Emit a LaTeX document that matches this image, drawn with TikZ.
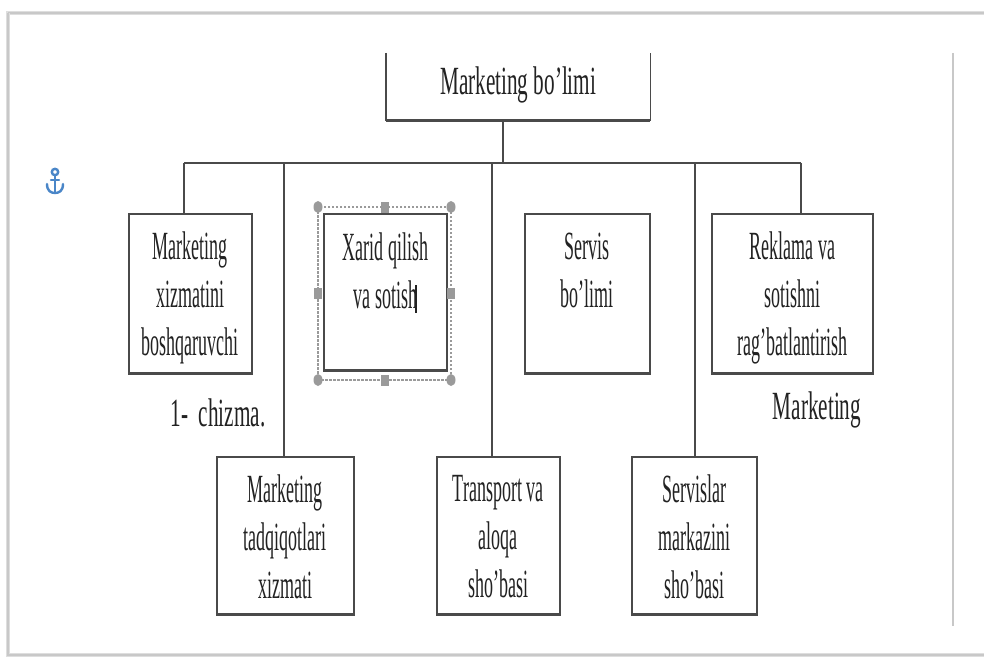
\documentclass[tikz,border=0pt]{standalone}
\usepackage{fontspec}
\setmainfont{Liberation Serif}
\newfontfamily\boxfont[FakeStretch=0.45]{Liberation Serif}
\newfontfamily\widefont[FakeStretch=0.53]{Liberation Serif}
\definecolor{edge}{HTML}{4A4A4A}
\definecolor{ink}{HTML}{222222}
\definecolor{handle}{HTML}{9A9A9A}
\definecolor{anchorblue}{HTML}{4A86C8}
\definecolor{pageedge}{HTML}{C8C8C8}
\tikzset{
  box/.style={draw=edge, line width=1.6pt, fill=white, rectangle, inner sep=0pt, anchor=north west},
  boxbottom/.style={draw=edge, line width=2.6pt},
  wire/.style={draw=edge, line width=1.6pt},
  txt/.style={font=\boxfont\fontsize{40}{48}\selectfont, text=ink, align=center, inner sep=0pt, anchor=north},
  bigtxt/.style={font=\widefont\fontsize{40}{48}\selectfont, text=ink, inner sep=0pt},
  grip/.style={fill=handle, draw=none},
}
\begin{document}
\begin{tikzpicture}[x=1pt, y=-1pt]
  \useasboundingbox (0,0) rectangle (984,663);
  \fill[white] (0,0) rectangle (984,663);

  % page edges
  \draw[pageedge!60, line width=4pt] (6,13) -- (984,13);
  \draw[pageedge, line width=1.4pt] (8,13) -- (984,13);
  \draw[pageedge!60, line width=4pt] (8,13) -- (8,655) -- (984,655);
  \draw[pageedge, line width=1.4pt] (8,13) -- (8,655) -- (984,655);
  \draw[pageedge, line width=1.2pt] (953,53) -- (953,626);

  % anchor mark
  \begin{scope}[anchorblue, line width=2.4pt, line cap=round]
    \draw (55,172) circle (3.2);
    \draw (55,176) -- (55,193);
    \draw (47,184) .. controls (47,191) and (51,193) .. (55,193)
                   .. controls (59,193) and (63,191) .. (63,184);
    \draw (51,180) -- (59,180);
  \end{scope}

  % top unit (its top edge is outside the view)
  \node[inner sep=0pt, minimum width=264pt, minimum height=67pt, anchor=north west] (top) at (386,53) {};
  \draw[wire] (top.north west) -- (top.south west) -- (top.south east) -- (top.north east);
  \draw[boxbottom] (top.south west) -- (top.south east);
  \node[txt, font=\widefont\fontsize{40}{48}\selectfont] (ttop) at ([yshift=-14pt]top.north) {Marketing bo’limi};

  % departments
  \node[box, minimum width=123pt, minimum height=159pt] (b1) at (128,213) {};
  \node[box, minimum width=123pt, minimum height=156pt] (b2) at (323,213) {};
  \node[box, minimum width=125pt, minimum height=159pt] (b3) at (524,213) {};
  \node[box, minimum width=161pt, minimum height=159pt] (b4) at (711,213) {};
  \node[box, minimum width=137pt, minimum height=157pt] (b6) at (216,456) {};
  \node[box, minimum width=123pt, minimum height=157pt] (b7) at (436,456) {};
  \node[box, minimum width=125pt, minimum height=157pt] (b8) at (631,456) {};
  \foreach \b in {b1,b2,b3,b4,b6,b7,b8}
    \draw[boxbottom] (\b.south west) -- (\b.south east);

  \node[txt] (t1) at ([yshift=-19pt]b1.north) {Marketing\\xizmatini\\boshqaruvchi};
  \node[txt] (t2) at ([yshift=-20pt]b2.north) {Xarid qilish\\va sotish};
  \node[txt] (t3) at ([yshift=-20pt]b3.north) {Servis\\bo’limi};
  \node[txt] (t4) at ([yshift=-19pt]b4.north) {Reklama va\\sotishni\\rag’batlantirish};
  \node[txt] (t6) at ([yshift=-19pt]b6.north) {Marketing\\tadqiqotlari\\xizmati};
  \node[txt] (t7) at ([yshift=-19pt]b7.north) {Transport va\\aloqa\\sho’basi};
  \node[txt] (t8) at ([yshift=-19pt]b8.north) {Servislar\\markazini\\sho’basi};

  % text cursor after the edited line
  \draw[ink, line width=1.2pt] (416,285) -- (416,313);

  % selection frame with grips round the edited unit
  \draw[handle, line width=1.2pt, dash pattern=on 2.5pt off 1.5pt] (318,207) rectangle (451,380);
  \foreach \p in {(318,207),(451,207),(318,380),(451,380)}
    \fill[grip] \p ellipse (4.5 and 6);
  \foreach \p in {(384.5,207),(384.5,380),(318,293.5),(451,293.5)}
    \fill[grip] \p +(-4,-5.5) rectangle +(4,5.5);

  % connectors
  \coordinate (stem) at (503,163);
  \coordinate (d1) at (184,163);
  \coordinate (d6) at (284,163);
  \coordinate (d7) at (492,163);
  \coordinate (d8) at (695,163);
  \coordinate (d4) at (801,163);
  \draw[wire] (stem |- top.south) -- (stem);
  \draw[wire] (d1) -- (d4);
  \draw[wire] (d1) -- (d1 |- b1.north);
  \draw[wire] (d6) -- (d6 |- b6.north);
  \draw[wire] (d7) -- (d7 |- b7.north);
  \draw[wire] (d8) -- (d8 |- b8.north);
  \draw[wire] (d4) -- (d4 |- b4.north);

  % loose captions
  \node[bigtxt] (cap1) at (218,413) {1-\ \ chizma.};
  \node[bigtxt] (cap2) at (817,410) {Marketing};
\end{tikzpicture}
\end{document}
